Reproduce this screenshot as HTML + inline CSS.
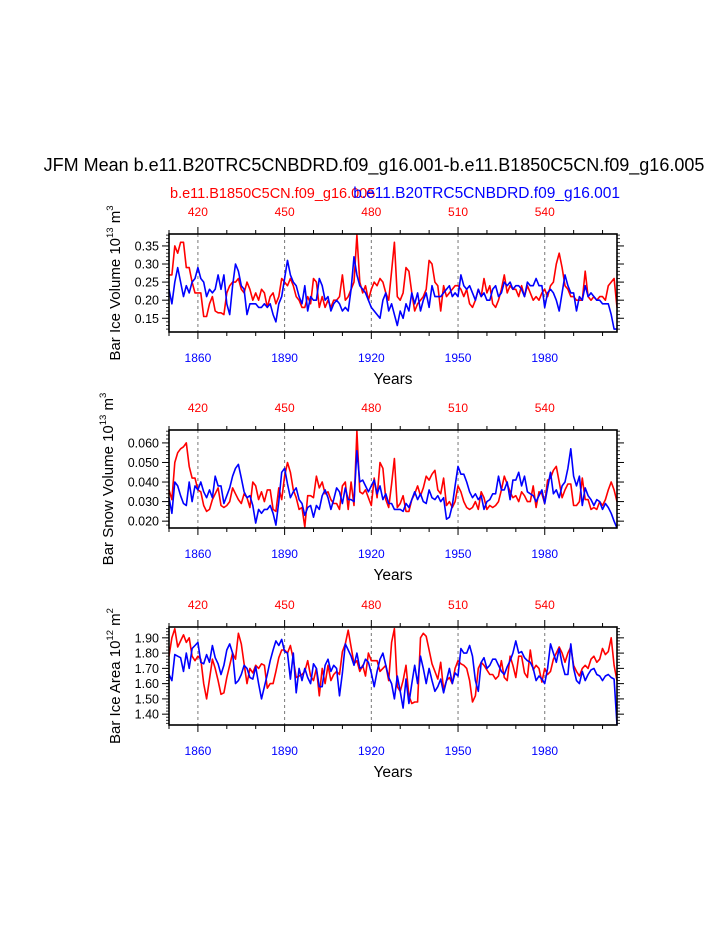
<!DOCTYPE html>
<html><head><meta charset="utf-8"><style>
html,body{margin:0;padding:0;background:#fff;}
svg{display:block;font-family:"Liberation Sans",sans-serif;}
</style></head><body>
<svg id="chart" width="723" height="935" viewBox="0 0 723 935" xmlns="http://www.w3.org/2000/svg">
<text x="374" y="171" font-size="18" text-anchor="middle">JFM Mean b.e11.B20TRC5CNBDRD.f09_g16.001-b.e11.B1850C5CN.f09_g16.005</text>
<text x="170" y="198" font-size="14.5" fill="#ff0000">b.e11.B1850C5CN.f09_g16.005</text>
<text x="620" y="198" font-size="15.5" fill="#0000ff" text-anchor="end">b.e11.B20TRC5CNBDRD.f09_g16.001</text>
</svg>
<script>
const yearStart = 1850;
const bottomTicks = [1860, 1890, 1920, 1950, 1980];
const topTicks = [420, 450, 480, 510, 540];
const topOffset = 1440;

const iceVolRed = [0.27,0.27,0.35,0.33,0.36,0.36,0.29,0.29,0.25,0.22,
0.22,0.22,0.155,0.155,0.19,0.21,0.17,0.165,0.165,0.16,
0.22,0.24,0.25,0.25,0.26,0.23,0.22,0.25,0.23,0.20,
0.22,0.20,0.23,0.22,0.18,0.21,0.22,0.19,0.21,0.26,
0.25,0.24,0.26,0.24,0.21,0.20,0.18,0.18,0.21,0.19,
0.26,0.25,0.18,0.21,0.18,0.20,0.18,0.20,0.20,0.21,
0.27,0.20,0.21,0.23,0.25,0.38,0.25,0.22,0.24,0.20,
0.23,0.25,0.24,0.26,0.25,0.22,0.20,0.28,0.36,0.21,
0.20,0.22,0.29,0.28,0.22,0.17,0.19,0.20,0.21,0.23,
0.31,0.30,0.25,0.24,0.17,0.24,0.21,0.22,0.23,0.24,
0.24,0.23,0.21,0.23,0.19,0.18,0.20,0.23,0.21,0.26,
0.22,0.24,0.19,0.18,0.20,0.23,0.27,0.22,0.24,0.23,
0.23,0.21,0.24,0.21,0.24,0.22,0.20,0.21,0.20,0.22,
0.23,0.21,0.24,0.25,0.30,0.33,0.29,0.24,0.23,0.21,
0.21,0.20,0.20,0.20,0.28,0.21,0.20,0.21,0.20,0.21,
0.21,0.20,0.24,0.25,0.26,0.18];
const iceVolBlue = [0.23,0.19,0.25,0.29,0.25,0.21,0.24,0.22,0.25,0.26,
0.29,0.26,0.25,0.21,0.23,0.22,0.23,0.27,0.23,0.27,
0.19,0.16,0.24,0.30,0.28,0.24,0.23,0.16,0.19,0.19,
0.19,0.18,0.18,0.19,0.18,0.19,0.16,0.14,0.19,0.21,
0.26,0.31,0.27,0.25,0.24,0.21,0.19,0.24,0.17,0.21,
0.20,0.20,0.26,0.24,0.20,0.21,0.17,0.19,0.20,0.19,
0.17,0.18,0.17,0.23,0.32,0.27,0.24,0.23,0.22,0.20,
0.18,0.17,0.16,0.15,0.20,0.22,0.17,0.19,0.16,0.13,
0.17,0.15,0.19,0.17,0.22,0.19,0.22,0.17,0.20,0.22,
0.18,0.24,0.21,0.21,0.21,0.22,0.23,0.24,0.21,0.22,
0.21,0.27,0.24,0.23,0.24,0.22,0.20,0.23,0.21,0.22,
0.20,0.20,0.23,0.24,0.21,0.22,0.25,0.24,0.25,0.23,
0.24,0.24,0.23,0.21,0.25,0.24,0.24,0.26,0.24,0.24,
0.18,0.22,0.23,0.22,0.20,0.17,0.22,0.27,0.24,0.22,
0.22,0.17,0.21,0.20,0.24,0.21,0.22,0.21,0.20,0.20,
0.19,0.19,0.19,0.16,0.12,0.12];

const snowRed = [0.036,0.031,0.050,0.055,0.057,0.058,0.060,0.048,0.042,0.042,
0.036,0.035,0.028,0.025,0.026,0.031,0.034,0.037,0.028,0.027,
0.028,0.030,0.037,0.034,0.031,0.029,0.034,0.032,0.027,0.040,
0.038,0.031,0.035,0.030,0.036,0.036,0.026,0.025,0.037,0.031,
0.043,0.050,0.045,0.036,0.032,0.026,0.027,0.017,0.033,0.033,
0.032,0.043,0.037,0.040,0.034,0.035,0.031,0.029,0.029,0.026,
0.038,0.040,0.026,0.040,0.028,0.066,0.035,0.034,0.036,0.032,
0.028,0.042,0.032,0.050,0.047,0.031,0.027,0.039,0.052,0.027,
0.029,0.033,0.025,0.025,0.031,0.034,0.038,0.033,0.037,0.043,
0.041,0.044,0.046,0.036,0.034,0.042,0.028,0.030,0.027,0.030,
0.038,0.035,0.030,0.027,0.026,0.027,0.030,0.026,0.035,0.032,
0.026,0.028,0.027,0.028,0.030,0.036,0.043,0.039,0.035,0.032,
0.033,0.030,0.035,0.033,0.030,0.030,0.038,0.027,0.035,0.034,
0.029,0.041,0.042,0.046,0.048,0.040,0.032,0.036,0.039,0.039,
0.028,0.028,0.030,0.042,0.031,0.031,0.026,0.027,0.026,0.030,
0.028,0.031,0.036,0.040,0.036,0.030];
const snowBlue = [0.032,0.024,0.040,0.038,0.033,0.029,0.028,0.040,0.030,0.038,
0.036,0.040,0.035,0.032,0.036,0.032,0.043,0.038,0.038,0.029,
0.033,0.037,0.043,0.047,0.049,0.042,0.035,0.032,0.033,0.028,
0.019,0.026,0.024,0.026,0.026,0.028,0.024,0.018,0.030,0.045,
0.047,0.039,0.032,0.035,0.037,0.031,0.029,0.023,0.027,0.028,
0.022,0.028,0.026,0.033,0.036,0.032,0.026,0.031,0.037,0.035,
0.029,0.037,0.031,0.031,0.030,0.056,0.040,0.041,0.038,0.035,
0.038,0.041,0.034,0.038,0.031,0.034,0.029,0.029,0.026,0.026,
0.026,0.025,0.029,0.027,0.031,0.035,0.031,0.034,0.030,0.029,
0.036,0.032,0.031,0.033,0.030,0.032,0.021,0.022,0.028,0.038,
0.048,0.044,0.044,0.040,0.035,0.032,0.034,0.031,0.033,0.026,
0.030,0.031,0.034,0.034,0.043,0.036,0.036,0.040,0.031,0.041,
0.041,0.045,0.038,0.043,0.035,0.034,0.033,0.030,0.033,0.036,
0.029,0.037,0.045,0.034,0.036,0.032,0.038,0.040,0.047,0.057,
0.043,0.038,0.043,0.028,0.037,0.033,0.031,0.028,0.031,0.030,
0.026,0.029,0.027,0.024,0.020,0.016];

const areaRed = [1.78,1.90,1.96,1.84,1.88,1.92,1.87,1.90,1.78,1.75,
1.78,1.76,1.60,1.50,1.63,1.76,1.70,1.62,1.53,1.54,
1.64,1.72,1.80,1.76,1.93,1.86,1.73,1.60,1.70,1.67,
1.72,1.70,1.73,1.72,1.57,1.60,1.60,1.68,1.77,1.82,
1.82,1.80,1.85,1.76,1.64,1.65,1.66,1.68,1.75,1.65,
1.62,1.70,1.52,1.70,1.60,1.72,1.62,1.66,1.68,1.66,
1.81,1.86,1.95,1.84,1.73,1.75,1.68,1.72,1.65,1.80,
1.75,1.75,1.75,1.68,1.70,1.72,1.62,1.87,1.96,1.58,
1.55,1.62,1.72,1.52,1.47,1.48,1.48,1.90,1.93,1.91,
1.82,1.73,1.68,1.63,1.74,1.56,1.62,1.64,1.60,1.70,
1.75,1.73,1.72,1.70,1.62,1.48,1.52,1.70,1.74,1.72,
1.69,1.66,1.66,1.63,1.65,1.75,1.64,1.62,1.78,1.72,
1.64,1.78,1.78,1.67,1.64,1.82,1.69,1.72,1.70,1.61,
1.70,1.66,1.68,1.76,1.80,1.84,1.80,1.74,1.80,1.84,
1.72,1.68,1.65,1.70,1.72,1.70,1.76,1.78,1.74,1.76,
1.83,1.79,1.81,1.90,1.72,1.62];
const areaBlue = [1.66,1.62,1.79,1.78,1.77,1.68,1.80,1.70,1.83,1.85,
1.87,1.74,1.73,1.79,1.74,1.85,1.77,1.73,1.66,1.72,
1.82,1.86,1.80,1.60,1.62,1.66,1.72,1.70,1.64,1.63,
1.71,1.60,1.50,1.58,1.66,1.75,1.82,1.88,1.85,1.89,
1.81,1.80,1.63,1.80,1.54,1.70,1.62,1.70,1.64,1.60,
1.73,1.70,1.58,1.58,1.72,1.76,1.68,1.72,1.70,1.52,
1.67,1.86,1.82,1.78,1.72,1.80,1.70,1.71,1.76,1.74,
1.67,1.58,1.68,1.76,1.80,1.72,1.64,1.60,1.50,1.65,
1.55,1.44,1.63,1.47,1.60,1.72,1.60,1.78,1.70,1.60,
1.70,1.62,1.55,1.58,1.63,1.54,1.62,1.70,1.60,1.67,
1.65,1.83,1.80,1.80,1.85,1.78,1.62,1.55,1.74,1.77,
1.70,1.72,1.76,1.76,1.72,1.68,1.66,1.71,1.75,1.80,
1.88,1.80,1.81,1.77,1.75,1.74,1.70,1.62,1.65,1.63,
1.60,1.70,1.86,1.80,1.74,1.83,1.73,1.66,1.66,1.86,
1.70,1.62,1.60,1.68,1.62,1.66,1.69,1.70,1.66,1.65,
1.62,1.65,1.66,1.64,1.63,1.33];

const iceVolTicks = ["0.15","0.20","0.25","0.30","0.35"];
const snowTicks = ["0.020","0.030","0.040","0.050","0.060"];
const areaTicks = ["1.40","1.50","1.60","1.70","1.80","1.90"];

const svg = document.getElementById('chart');
const NS = 'http://www.w3.org/2000/svg';
function mk(tag, attrs, parent){
  const e = document.createElementNS(NS, tag);
  for (const k in attrs) e.setAttribute(k, attrs[k]);
  (parent||svg).appendChild(e);
  return e;
}
const X0 = 169, X1 = 617;
const xMin = 1850, xMax = 2005;
function xScale(yr){ return X0 + (yr - xMin) / (xMax - xMin) * (X1 - X0); }

function panel(cfg){
  const g = mk('g', {});
  
  
  const top = cfg.top, bot = cfg.top + 98;
  const yScale = v => bot - (v - cfg.yMin) / (cfg.yMax - cfg.yMin) * (bot - top);
  bottomTicks.forEach(t => {
    const l = mk('line', {x1:xScale(t), x2:xScale(t), y1:top, y2:bot, stroke:'#777', 'stroke-width':1, 'stroke-dasharray':'3,3'}, g);
    
    
  });
  for (let yr = 1850; yr <= 2000; yr += 10){
    const major = bottomTicks.includes(yr);
    const len = major ? 7 : 4;
    const x = xScale(yr);
    mk('line', {x1:x, x2:x, y1:bot, y2:bot+len, stroke:'#000', 'stroke-width':1}, g);
    mk('line', {x1:x, x2:x, y1:top, y2:top-len, stroke:'#000', 'stroke-width':1}, g);
  }
  bottomTicks.forEach(t => {
    const tx = mk('text', {x:xScale(t), y:bot+30, 'font-size':12, 'text-anchor':'middle', fill:'#0000ff'}, g);
    tx.textContent = t;
    
    
  });
  topTicks.forEach(t => {
    const tx = mk('text', {x:xScale(t + topOffset), y:top-18, 'font-size':12, 'text-anchor':'middle', fill:'#ff0000'}, g);
    tx.textContent = t;
    
    
  });
  const step = cfg.minor;
  for (let v = Math.ceil(cfg.yMin/step)*step; v <= cfg.yMax + 1e-9; v += step){
    const y = yScale(v);
    mk('line', {x1:X0-3, x2:X0, y1:y, y2:y, stroke:'#000', 'stroke-width':0.8}, g);
    mk('line', {x1:X1, x2:X1+3, y1:y, y2:y, stroke:'#000', 'stroke-width':0.8}, g);
  }
  cfg.ticks.forEach(t => {
    const y = yScale(parseFloat(t));
    mk('line', {x1:X0-7, x2:X0, y1:y, y2:y, stroke:'#000', 'stroke-width':1}, g);
    mk('line', {x1:X1, x2:X1+7, y1:y, y2:y, stroke:'#000', 'stroke-width':1}, g);
    const tx = mk('text', {x:X0-10, y:y+4.5, 'font-size':12.5, 'text-anchor':'end'}, g);
    tx.textContent = t;
    
    
  });
  [[cfg.red,'#ff0000','red-series'],[cfg.blue,'#0000ff','blue-series']].forEach(([arr,col,nm]) => {
    const pts = arr.map((v,i) => xScale(yearStart+i).toFixed(1)+','+yScale(Math.max(cfg.yMin, Math.min(cfg.yMax, v))).toFixed(1)).join(' ');
    const pl = mk('polyline', {points:pts, fill:'none', stroke:col, 'stroke-width':1.6, 'stroke-linejoin':'round'}, g);
    
    
  });
  const fr = mk('rect', {x:X0, y:top, width:X1-X0, height:bot-top, fill:'none', stroke:'#000', 'stroke-width':1.6}, g);
  
  
  const xt = mk('text', {x:393, y:bot+52, 'font-size':15.5, 'text-anchor':'middle'}, g);
  xt.textContent = 'Years';
  
  
  const yt = mk('text', {x:0, y:0, 'font-size':15, 'text-anchor':'middle', transform:'translate('+cfg.ylx+','+(top+49)+') rotate(-90)'}, g);
  yt.innerHTML = cfg.ylabel + ' 10<tspan font-size="9.5" dy="-7">' + cfg.exp + '</tspan><tspan dy="7"> m</tspan><tspan font-size="9.5" dy="-7">' + cfg.unitExp + '</tspan>';
  
  
}

panel({name:'ice-volume-panel', top:234, yMin:0.112, yMax:0.383, minor:0.01, ticks:iceVolTicks, red:iceVolRed, blue:iceVolBlue, ylabel:'Bar Ice Volume', exp:'13', unitExp:'3', ylx:120});
panel({name:'snow-volume-panel', top:430, yMin:0.0165, yMax:0.0666, minor:0.002, ticks:snowTicks, red:snowRed, blue:snowBlue, ylabel:'Bar Snow Volume', exp:'13', unitExp:'3', ylx:113});
panel({name:'ice-area-panel', top:627, yMin:1.329, yMax:1.971, minor:0.02, ticks:areaTicks, red:areaRed, blue:areaBlue, ylabel:'Bar Ice Area', exp:'12', unitExp:'2', ylx:120});
</script>
</body></html>
